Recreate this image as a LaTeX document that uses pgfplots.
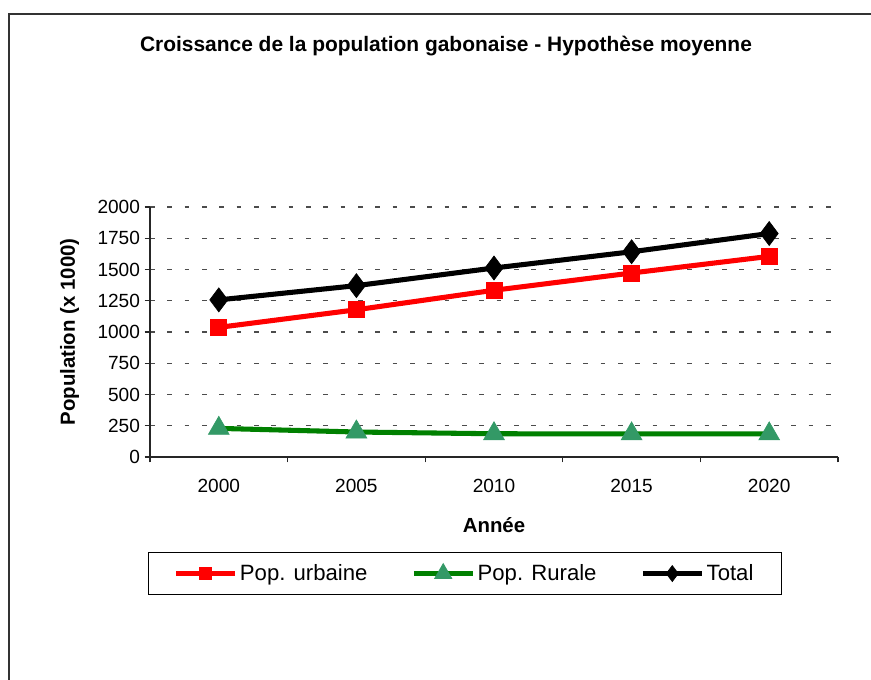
\documentclass[border=0pt]{standalone}
\usepackage{pgfplots}
\pgfplotsset{compat=1.18}
\usepackage{fontspec}
\setmainfont{Liberation Sans}
\definecolor{urb}{HTML}{FF0000}
\definecolor{rurline}{HTML}{008000}
\definecolor{rurfill}{HTML}{339966}
\pgfplotsset{legimg/.style={legend image code/.code={\draw[##1, mark=none, line width=3.6pt] (0pt,0pt) -- (44pt,0pt);
    \draw[##1, line width=0.5pt, mark size=#1] plot coordinates {(22pt,0pt)};}}}
\begin{document}
\begin{tikzpicture}[x=0.75pt,y=-0.75pt]
\useasboundingbox (0,0) rectangle (871,679);
\draw[line width=1.2pt, black!80] (9,14) rectangle (890,700);
\node[font=\fontsize{15.7}{18}\selectfont\bfseries] at (446,46) {Croissance de la population gabonaise - Hypothèse moyenne};
\coordinate (A) at (150,457);
\begin{axis}[
  at={(A)}, anchor=south west,
  scale only axis, width=516pt, height=187.5pt,
  xmin=-0.5, xmax=4.5, ymin=0, ymax=2000,
  axis x line*=bottom, axis y line*=left,
  axis line style={black!85, line width=0.8pt},
  xtick={0,1,2,3,4}, xticklabels={2000,2005,2010,2015,2020},
  minor xtick={-0.5,0.5,1.5,2.5,3.5,4.5},
  major x tick style={draw=none},
  minor x tick style={black!85, line width=0.8pt},
  ytick={0,250,...,2000},
  y tick style={black!85, line width=0.8pt},
  tick align=outside, major tick length=4pt, minor tick length=4pt,
  ymajorgrids, major grid style={black!70, line width=0.8pt, dash pattern=on 3.5pt off 9.5pt},
  /pgf/number format/assume math mode=true,
  /pgf/number format/1000 sep={},
  ticklabel style={font=\fontsize{14.3}{16}\selectfont},
  xticklabel style={yshift=-9pt},
  xlabel={\bfseries Année}, ylabel={\bfseries Population (x 1000)},
  label style={font=\fontsize{15.3}{17}\selectfont},
  xlabel style={yshift=-12pt},
  ylabel style={yshift=7pt},
  legend columns=3,
  legend style={at={(-0.003,-0.38)}, anchor=north west, draw=black, line width=0.8pt,
    font=\fontsize{16.6}{19}\selectfont, inner xsep=19pt, inner ysep=7pt,
    /tikz/every even column/.append style={column sep=31pt}},
  legend cell align=left,
]
\addplot[urb, line width=3.8pt, mark=square*, mark size=6pt, mark options={solid, fill=urb, draw=urb, line width=0.5pt}, legimg=4.5pt]
  coordinates {(0,1037) (1,1178) (2,1334) (3,1472) (4,1605)};
\addlegendentry{Pop. urbaine}
\addplot[rurline, line width=3.8pt, mark=triangle*, mark size=9pt, mark options={solid, fill=rurfill, draw=rurfill, line width=0.5pt}, legimg=7.5pt]
  coordinates {(0,229) (1,200) (2,186) (3,185) (4,185)};
\addlegendentry{Pop. Rurale}
\addplot[black, line width=3.8pt, mark=diamond*, mark size=9pt, mark options={solid, fill=black, draw=black, line width=0.5pt}, legimg=6pt]
  coordinates {(0,1257) (1,1371) (2,1512) (3,1642) (4,1788)};
\addlegendentry{Total}
\end{axis}
\end{tikzpicture}
\end{document}
